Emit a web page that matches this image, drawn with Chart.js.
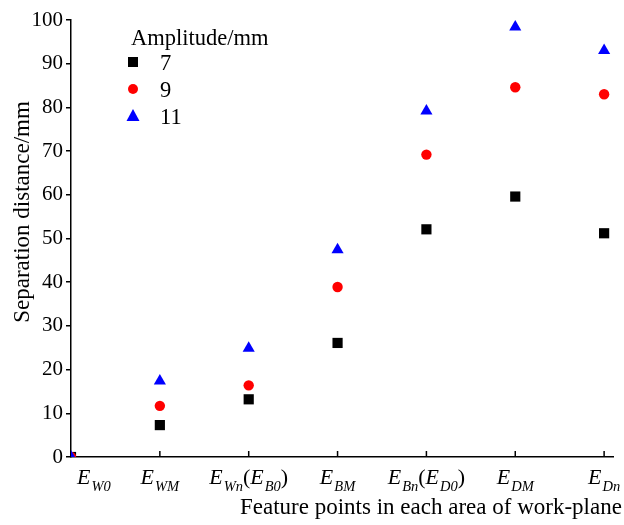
<!DOCTYPE html>
<html>
<head>
<meta charset="utf-8">
<script src="https://cdn.jsdelivr.net/npm/chart.js@4"></script>
<style>
body{margin:0;background:#fff;}
#wrap{width:624px;height:525px;}
</style>
</head>
<body>
<div id="wrap"><canvas id="c" width="624" height="525"></canvas></div>
<script>
// x categories: "_" starts a subscript
const categories = ['E_W0', 'E_WM', 'E_Wn(E_B0)', 'E_BM', 'E_Bn(E_D0)', 'E_DM', 'E_Dn'];
const amplitudes = ['7', '9', '11'];
const amp7 = [0, 7.3, 13.2, 26.1, 52.1, 59.6, 51.2];
const amp9 = [0, 11.7, 16.4, 38.9, 69.2, 84.6, 83.0];
const amp11 = [0, 17.4, 24.9, 47.4, 79.2, 98.4, 93.0];
const yTicks = [0, 10, 20, 30, 40, 50, 60, 70, 80, 90, 100];

const FONT = '"Liberation Serif", "Times New Roman", serif';

function pts(arr){
  return arr.map((v,i)=>({x:i,y:v}));
}

// split "E_Wn(E_B0)" into pieces
function parseLabel(s){
  const parts=[];
  let i=0;
  while(i<s.length){
    const ch=s[i];
    if(ch==='_'){
      let j=i+1, t='';
      while(j<s.length && /[A-Za-z0-9]/.test(s[j])){ t+=s[j]; j++; }
      parts.push({t:t,sub:true});
      i=j;
    } else if(ch==='(' || ch===')'){
      parts.push({t:ch,paren:true});
      i++;
    } else {
      parts.push({t:ch});
      i++;
    }
  }
  return parts;
}

function partFont(p){
  if(p.sub) return 'italic 14.5px '+FONT;
  if(p.paren) return '22px '+FONT;
  return 'italic 22px '+FONT;
}

const extras = {
  id:'extras',
  afterDraw(chart){
    const ctx=chart.ctx;
    const xs=chart.scales.x;
    const area=chart.chartArea;
    ctx.save();
    ctx.fillStyle='#000';
    ctx.strokeStyle='#000';

    // inward x ticks
    ctx.lineWidth=1.5;
    categories.forEach((c,i)=>{
      if(i===0) return;
      const px=xs.getPixelForValue(i);
      ctx.beginPath();
      ctx.moveTo(px,area.bottom);
      ctx.lineTo(px,area.bottom-6);
      ctx.stroke();
    });

    // x category labels with subscripts
    ctx.textBaseline='alphabetic';
    ctx.textAlign='left';
    categories.forEach((c,i)=>{
      const parts=parseLabel(c);
      let w=0;
      parts.forEach(p=>{ ctx.font=partFont(p); p.w=ctx.measureText(p.t).width; w+=p.w; if(p.sub) w+=1; });
      const px=xs.getPixelForValue(i);
      let x = i===0 ? area.left+6 : px-w/2;
      parts.forEach(p=>{
        ctx.font=partFont(p);
        ctx.fillText(p.t, x+(p.sub?1:0), p.sub?491:484);
        x+=p.w+(p.sub?1:0);
      });
    });

    // axis titles
    ctx.font='23px '+FONT;
    ctx.textAlign='left';
    ctx.fillText('Feature points in each area of work-plane', 240, 514);

    ctx.save();
    ctx.translate(29,212);
    ctx.rotate(-Math.PI/2);
    ctx.textAlign='center';
    ctx.fillText('Separation distance/mm', 0, 0);
    ctx.restore();

    // legend
    ctx.font='22.5px '+FONT;
    ctx.textAlign='left';
    ctx.fillText('Amplitude/mm', 131, 45);
    chart.data.datasets.forEach((ds,k)=>{
      const cy=62+k*27;
      ctx.fillStyle=ds.backgroundColor;
      if(ds.pointStyle==='rect'){
        ctx.fillRect(128,cy-5,10,10);
      } else if(ds.pointStyle==='circle'){
        ctx.beginPath(); ctx.arc(133,cy,5,0,Math.PI*2); ctx.fill();
      } else {
        ctx.beginPath();
        ctx.moveTo(133,cy-7); ctx.lineTo(139.5,cy+5); ctx.lineTo(126.5,cy+5);
        ctx.closePath(); ctx.fill();
      }
      ctx.fillStyle='#000';
      ctx.fillText(ds.label,160,cy+8);
    });
    ctx.restore();
  }
};

new Chart(document.getElementById('c'),{
  type:'scatter',
  data:{
    datasets:[
      {label:amplitudes[0],data:pts(amp7),pointStyle:'rect',pointRadius:7.2,backgroundColor:'#000',borderWidth:0,clip:0,order:2},
      {label:amplitudes[1],data:pts(amp9),pointStyle:'circle',pointRadius:5.2,backgroundColor:'#ff0000',borderWidth:0,clip:0,order:1},
      {label:amplitudes[2],data:pts(amp11),pointStyle:'triangle',pointRadius:7,backgroundColor:'#0000ff',borderWidth:0,clip:0,order:0}
    ]
  },
  options:{
    responsive:false,
    animation:false,
    layout:{padding:{top:20,right:11,left:0,bottom:0}},
    plugins:{legend:{display:false},tooltip:{enabled:false}},
    scales:{
      x:{
        type:'linear',min:0,max:6.1,
        ticks:{display:false},
        grid:{display:false},
        border:{display:true,color:'#000',width:1.5},
        afterFit(s){ s.height=68; }
      },
      y:{
        min:0,max:100,
        afterBuildTicks(s){ s.ticks=yTicks.map(v=>({value:v})); },
        ticks:{color:'#000',padding:3,font:{family:FONT,size:21}},
        grid:{drawOnChartArea:false,drawTicks:true,tickLength:5,color:'#000',lineWidth:1.5},
        border:{display:true,color:'#000',width:1.5},
        afterFit(s){ s.width=71; }
      }
    }
  },
  plugins:[extras]
});
</script>
</body>
</html>
